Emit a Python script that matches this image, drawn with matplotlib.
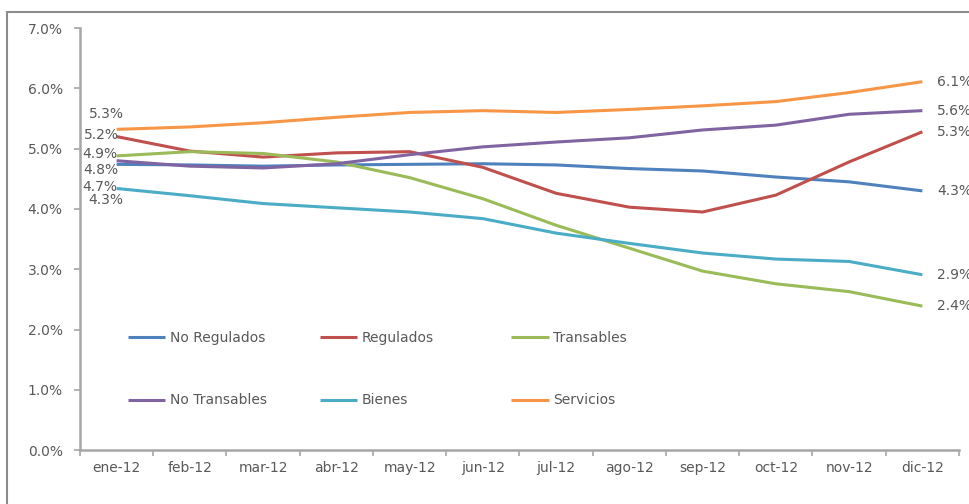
import matplotlib
matplotlib.use("Agg")
import matplotlib.pyplot as plt
from matplotlib.legend import Legend
from matplotlib.patches import Rectangle

months = ["ene-12", "feb-12", "mar-12", "abr-12", "may-12", "jun-12",
          "jul-12", "ago-12", "sep-12", "oct-12", "nov-12", "dic-12"]

no_regulados = [4.74, 4.73, 4.71, 4.73, 4.74, 4.75, 4.73, 4.67, 4.63, 4.53, 4.45, 4.30]
regulados = [5.20, 4.96, 4.86, 4.93, 4.95, 4.69, 4.26, 4.03, 3.95, 4.23, 4.78, 5.28]
transables = [4.88, 4.95, 4.92, 4.78, 4.52, 4.17, 3.73, 3.35, 2.97, 2.76, 2.63, 2.39]
no_transables = [4.80, 4.71, 4.68, 4.75, 4.90, 5.03, 5.11, 5.18, 5.31, 5.39, 5.57, 5.63]
bienes = [4.34, 4.22, 4.09, 4.02, 3.95, 3.84, 3.60, 3.43, 3.27, 3.17, 3.13, 2.91]
servicios = [5.32, 5.36, 5.43, 5.52, 5.60, 5.63, 5.60, 5.65, 5.71, 5.78, 5.93, 6.11]

names = ["No Regulados", "Regulados", "Transables", "No Transables", "Bienes", "Servicios"]
series = [no_regulados, regulados, transables, no_transables, bienes, servicios]
colors = ["#4F81BD", "#C0504D", "#9BBB59", "#8064A2", "#4BACC6", "#F79646"]
# hand-placed offsets (pixels) of the first-month labels
first_offsets = [(1, -23), (2, 2), (1, 2), (2, -9), (7, -12), (7, 15)]

text_color = "#595959"
axis_color = "#a6a6a6"
plt.rcParams["font.family"] = "DejaVu Sans"

fig = plt.figure(figsize=(9.7, 5.04), dpi=100)
ax = fig.add_axes([80 / 970, 1 - 450.3 / 504, 879 / 970, 422.3 / 504])

# outer chart frame
fig.patches.append(Rectangle((7 / 970, -0.1), 1.2, 0.1 + 1 - 12 / 504,
                             transform=fig.transFigure, fill=False,
                             edgecolor="#8c8c8c", linewidth=1.5))

x = list(range(len(months)))
lines = []
for name, vals, c in zip(names, series, colors):
    ln, = ax.plot(x, vals, color=c, linewidth=2.2, label=name, solid_capstyle="butt")
    lines.append(ln)

for vals, c, (dx, dy) in zip(series, colors, first_offsets):
    ax.annotate(f"{vals[0]:.1f}%", (x[0], vals[0]), xytext=(dx, dy),
                textcoords="offset pixels", ha="right", va="center",
                fontsize=10, color=text_color, annotation_clip=False)
    ax.annotate(f"{vals[-1]:.1f}%", (x[-1], vals[-1]), xytext=(15, 0),
                textcoords="offset pixels", ha="left", va="center",
                fontsize=10, color=text_color, annotation_clip=False)

ax.set_xlim(-0.5, len(months) - 0.5)
ax.set_ylim(0, 7)
ax.set_yticks([i for i in range(8)])
ax.set_yticklabels([f"{i:.1f}%" for i in range(8)])
ax.set_xticks(x)
ax.set_xticklabels(months)
ax.set_xticks([i - 0.5 for i in range(len(months) + 1)], minor=True)

for s in ["top", "right"]:
    ax.spines[s].set_visible(False)
for s in ["left", "bottom"]:
    ax.spines[s].set_color(axis_color)
    ax.spines[s].set_linewidth(1.8)

ax.tick_params(axis="y", length=4.5, width=1.2, color=axis_color, pad=8,
               labelsize=10, labelcolor=text_color)
ax.tick_params(axis="x", which="major", length=0, pad=8,
               labelsize=10, labelcolor=text_color)
ax.tick_params(axis="x", which="minor", length=4, width=1.2, color=axis_color)

# legend split into three columns placed by hand
col_x = [(128 - 80) / 879, (320 - 80) / 879, (511 - 80) / 879]
for i, cx in enumerate(col_x):
    pair = [lines[i], lines[i + 3]]
    leg = Legend(ax, pair, [l.get_label() for l in pair],
                 loc="upper left", bbox_to_anchor=(cx, 0.283),
                 frameon=False, fontsize=10, handlelength=2.7,
                 handletextpad=0.3, labelspacing=3.5, borderpad=0,
                 borderaxespad=0, labelcolor=text_color)
    ax.add_artist(leg)

fig.savefig("out.png", dpi=100)
